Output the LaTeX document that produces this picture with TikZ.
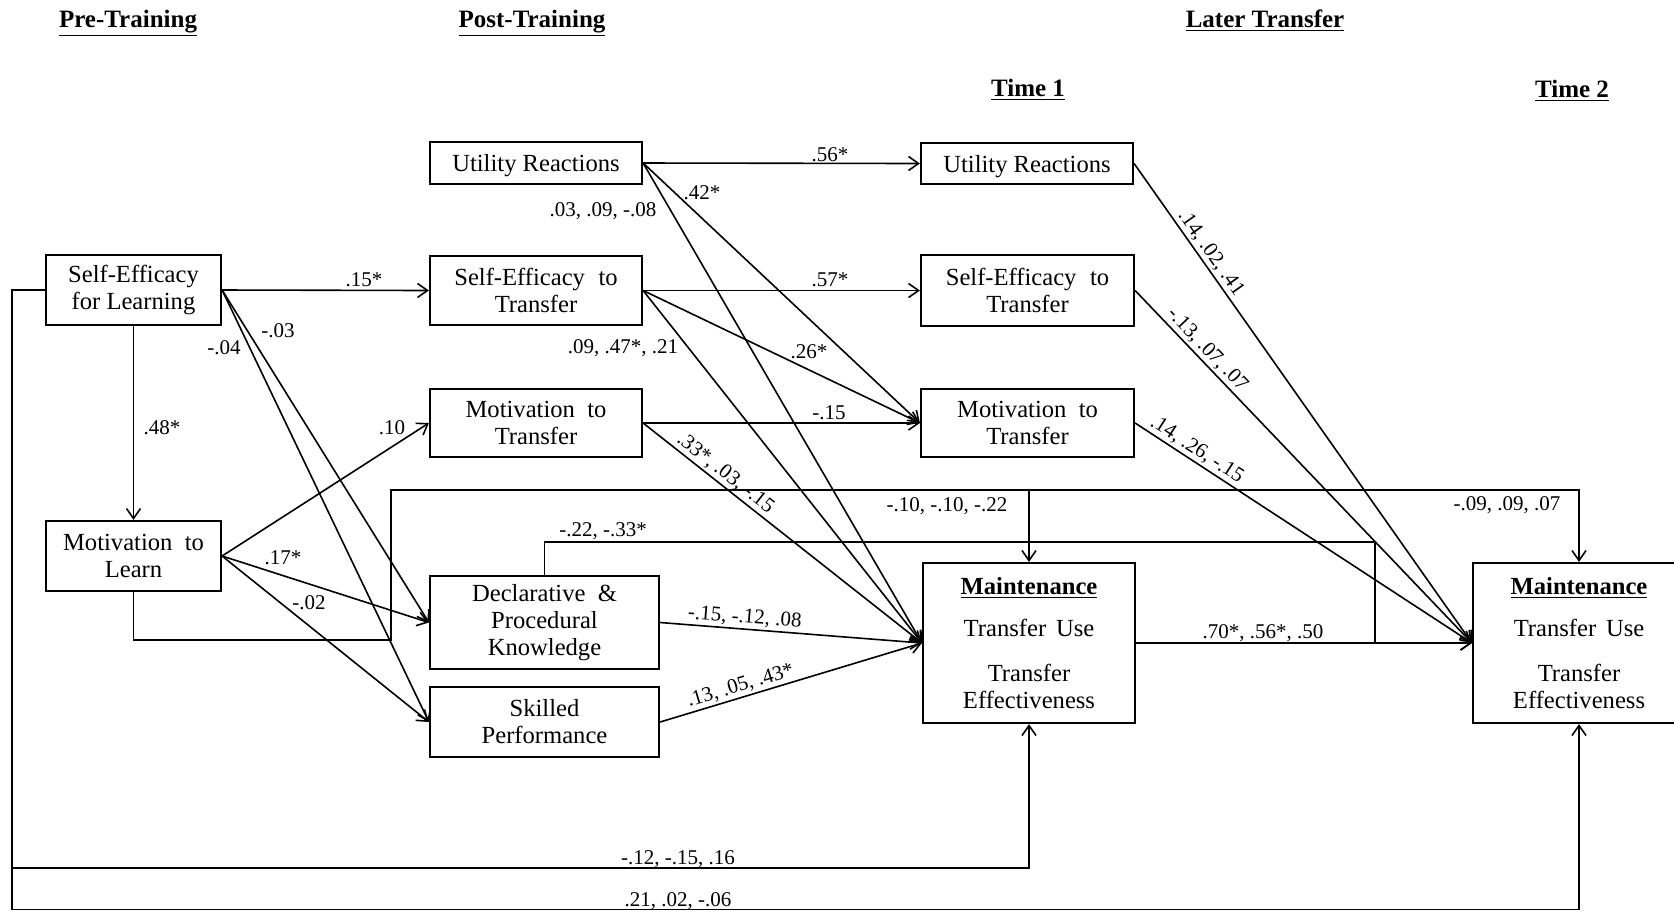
\documentclass[tikz,border=0pt]{standalone}
\usepackage{fontspec}
\setmainfont{Liberation Serif}
\usetikzlibrary{arrows.meta}
\newcommand{\bxfont}{\fontsize{12.3pt}{13.5pt}\selectfont}
\newcommand{\lbfont}{\fontsize{10.5pt}{12pt}\selectfont}
\newcommand{\hdfont}{\fontsize{12.5pt}{14pt}\selectfont\bfseries}
\begin{document}
\begin{tikzpicture}[x=0.5pt,y=-0.5pt,
  box/.style={draw, line width=1.1pt, inner sep=0pt, align=center, font=\bxfont},
  lab/.style={font=\lbfont, inner sep=1pt},
  slab/.style={font=\lbfont, inner sep=1pt, sloped, above},
  hdr/.style={font=\hdfont, inner sep=0pt, anchor=base},
  ln/.style={line width=0.8pt},
  arr/.style={line width=0.8pt, -{Straight Barb[length=5pt,width=7pt,line width=0.8pt]}}
]
\useasboundingbox (0,0) rectangle (1674,912);
\fill[white] (0,0) rectangle (1674,912);
\clip (0,0) rectangle (1674,912);

% headers
\node[hdr] (hPre) at (128,27) {\underline{Pre-Training}};
\node[hdr] (hPost) at (532,27) {\underline{Post-Training}};
\node[hdr] (hLater) at (1265,27) {\underline{Later Transfer}};
\node[hdr] (hT1) at (1028,96) {\underline{Time 1}};
\node[hdr] (hT2) at (1572,97) {\underline{Time 2}};

% boxes
\node[box, minimum width=87.5pt, minimum height=35pt] (SEL) at (133.5,290) {Self-Efficacy\\for Learning};
\node[box, minimum width=87.5pt, minimum height=35pt] (MTL) at (133.5,556) {Motivation\hspace{.5em}to\\Learn};
\node[box, minimum width=106pt, minimum height=21pt, text depth=0pt] (URp) at (536,163) {Utility Reactions};
\node[box, minimum width=106pt, minimum height=34.5pt] (SETp) at (536,290.5) {Self-Efficacy\hspace{.55em}to\\Transfer};
\node[box, minimum width=106pt, minimum height=34pt] (MTTp) at (536,423) {Motivation\hspace{.5em}to\\Transfer};
\node[box, minimum width=114.5pt, minimum height=46.5pt] (DPK) at (544.5,622.5) {Declarative\hspace{.5em}\&\\Procedural\\Knowledge};
\node[box, minimum width=114.5pt, minimum height=35pt] (SP) at (544.5,722) {Skilled\\Performance};
\node[box, minimum width=106pt, minimum height=20.5pt, text depth=0pt] (UR1) at (1027,163.5) {Utility Reactions};
\node[box, minimum width=106.5pt, minimum height=35.5pt] (SET1) at (1027.5,290.5) {Self-Efficacy\hspace{.55em}to\\Transfer};
\node[box, minimum width=106.5pt, minimum height=34pt] (MTT1) at (1027.5,423) {Motivation\hspace{.5em}to\\Transfer};
\node[box, minimum width=106pt, minimum height=80pt] (M1) at (1029,643) {\underline{\textbf{Maintenance}}\\[7.5pt]Transfer\hspace{.4em}Use\\[9pt]Transfer\\Effectiveness};
\node[box, minimum width=106pt, minimum height=80pt] (M2) at (1579,643) {\underline{\textbf{Maintenance}}\\[7.5pt]Transfer\hspace{.4em}Use\\[9pt]Transfer\\Effectiveness};

% helper coordinates
\coordinate (mA) at (391,640);
\coordinate (mB) at (391,490);
\coordinate (dA) at (1375,542);
\coordinate (dB) at (dA |- M2.west);
\coordinate (sA) at (12,868);
\coordinate (sB) at (12,909.5);

% connectors
\draw[arr] (SEL.east) -- (SETp.west);
\draw[arr] (SEL.east) -- (DPK.west);
\draw[arr] (SEL.east) -- (SP.west);
\draw[arr] (SEL.south) -- (MTL.north);
\draw[arr] (MTL.east) -- (MTTp.west);
\draw[arr] (MTL.east) -- (DPK.west);
\draw[arr] (MTL.east) -- (SP.west);
\draw[arr] (URp.east) -- (UR1.west);
\draw[arr] (URp.east) -- (MTT1.west);
\draw[arr] (URp.east) -- (M1.west);
\draw[arr] (SETp.east) -- (SET1.west);
\draw[arr] (SETp.east) -- (MTT1.west);
\draw[arr] (SETp.east) -- (M1.west);
\draw[arr] (MTTp.east) -- (MTT1.west);
\draw[arr] (MTTp.east) -- node[slab, pos=.27] (lMTp) {.33*, .03, -.15} (M1.west);
\draw[arr] (DPK.east) -- node[slab, pos=.32] (lDPK) {-.15, -.12, .08} (M1.west);
\draw[arr] (SP.east) -- node[slab, pos=.32] (lSP) {.13, .05, .43*} (M1.west);
\draw[arr] (M1.east) -- (M2.west);
\draw[arr] (UR1.east) -- node[slab, pos=.2] (lUR1) {.14, .02, .41} (M2.west);
\draw[arr] (SET1.east) -- node[slab, pos=.19] (lSET1) {-.13, .07, .07} (M2.west);
\draw[arr] (MTT1.east) -- node[slab, pos=.165] (lMTT1) {.14, .26, -.15} (M2.west);
\draw[arr] (MTL.south) |- (mA) -- (mB) -| (M2.north);
\draw[arr] (M1.north |- mB) -- (M1.north);
\draw[arr] (DPK.north) |- (dA) -- (dB) -- (M2.west);
\draw[arr] (SEL.west) -| (sA) -| (M1.south);
\draw[arr] (sA) -- (sB) -| (M2.south);

% labels
\node[lab] (l15) at (364,280) {.15*};
\node[lab] (l48) at (162,428) {.48*};
\node[lab] (l03) at (278,331) {-.03};
\node[lab] (l04) at (224,348) {-.04};
\node[lab] (l10) at (392,428) {.10};
\node[lab] (l17) at (283,558) {.17*};
\node[lab] (l02) at (309,603) {-.02};
\node[lab] (l56) at (830,155) {.56*};
\node[lab] (l42) at (702,193) {.42*};
\node[lab] (lURM) at (603,211) {.03, .09, -.08};
\node[lab] (l57) at (830,280) {.57*};
\node[lab] (l26) at (809,352) {.26*};
\node[lab] (lSETM) at (623,348) {.09, .47*, .21};
\node[lab] (lm15) at (829,413) {-.15};
\node[lab] (lMTL1) at (947,506) {-.10, -.10, -.22};
\node[lab] (lMTL2) at (1507,505) {-.09, .09, .07};
\node[lab] (lDPK2) at (603,531) {-.22, -.33*};
\node[lab] (lM12) at (1263,633) {.70*, .56*, .50};
\node[lab] (lSEL1) at (678,859) {-.12, -.15, .16};
\node[lab] (lSEL2) at (678,901) {.21, .02, -.06};
\end{tikzpicture}
\end{document}
